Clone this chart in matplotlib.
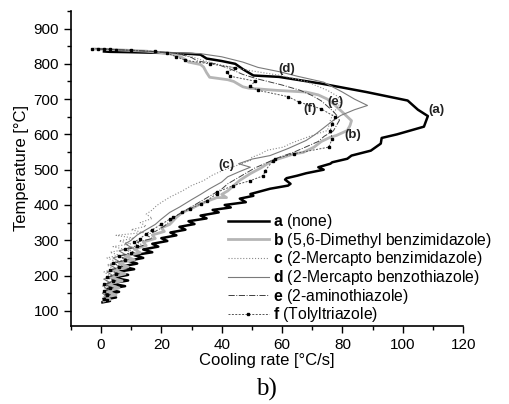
import matplotlib
matplotlib.use('Agg')
import matplotlib.pyplot as plt
from matplotlib.ticker import MultipleLocator

plt.rcParams['font.family'] = ['Liberation Sans', 'DejaVu Sans']
plt.rcParams['mathtext.fontset'] = 'custom'
plt.rcParams['mathtext.rm'] = 'Liberation Sans'
plt.rcParams['mathtext.bf'] = 'Liberation Sans:bold'

# (temperature, cooling rate), in cooling order
a_T = [835, 834, 833, 831, 828, 826, 815, 808, 800, 785, 767, 763, 744, 720, 696, 670, 652,
       622, 600, 590, 574, 554, 540, 531, 521, 517, 507, 500, 490, 483, 476, 472, 460, 455,
       446, 431, 426, 418, 408, 400, 393, 386, 379, 370, 362, 354, 346, 338, 330, 322, 314,
       306, 298, 290, 282, 274, 266, 258, 250, 242, 234, 226, 218, 210, 202, 194, 186, 178,
       170, 162, 154, 146, 138, 132, 128, 124]
a_x = [1, 3, 10, 20, 30, 33, 35, 40, 44.5, 47, 50.5, 59, 73, 88, 101.6, 105, 108.3,
       107, 98, 93, 92.7, 89.4, 83, 81.6, 76.6, 76, 72, 73.8, 68, 65, 61.5, 61, 62.8, 62,
       56, 49.5, 50.5, 46, 48, 41, 43, 37, 39, 33, 35, 29, 31, 26, 28, 23, 25,
       20, 22, 17, 19, 14, 17, 11, 14, 9, 12, 7, 11, 5, 9, 4, 9, 3,
       8, 2, 6, 1.5, 5, 1, 3, 0.5]

b_T = [842, 840, 836, 830, 822, 812, 805, 798, 791, 775, 762, 755, 750, 735, 731, 725, 720,
       712, 700, 687, 663, 639, 625, 611, 597, 592, 580, 564, 549, 545, 535, 526, 516, 505,
       489, 470, 455, 440, 430, 421, 421, 410, 403, 390, 379, 365, 345, 335, 325, 315, 305,
       295, 285, 275, 265, 255, 245, 235, 225, 215, 205, 195, 185, 175, 165, 155, 145, 138,
       132, 128]
b_x = [-2, 5, 15, 22, 26, 28, 29, 33, 34, 35, 36, 42, 44, 47, 49, 58, 68,
       72, 75, 77, 80, 83, 82.5, 81.6, 78, 76, 73, 70.6, 67, 64, 60.4, 57, 55, 53,
       49.5, 46, 44, 42, 40, 41.6, 38.4, 35, 33, 30, 27, 25, 22.8, 20, 21, 17, 18,
       14, 15, 11, 13, 8, 11, 6, 9, 4, 8, 3, 7, 2, 6, 2, 5, 1,
       3, 1]

c_T = [843, 838, 830, 820, 812, 800, 791, 780, 767, 750, 725, 710, 696, 685, 673, 660, 640,
       625, 611, 600, 592, 575, 564, 555, 545, 535, 526, 512, 500, 485, 469, 455, 440, 422,
       410, 398, 386, 374, 362, 350, 340, 330, 322, 314, 306, 298, 290, 282, 274, 266, 258,
       250, 240, 230, 220, 210, 200, 190, 180, 170, 160, 150, 140, 130]
c_x = [-1, 10, 25, 30, 33, 38, 42.8, 50, 59.5, 68, 75, 78, 79.5, 79, 78, 77, 76,
       75.5, 75, 71, 68.3, 63, 60.4, 55, 53, 50, 49.5, 45, 41, 37, 34, 30, 27, 22.8,
       20.5, 18.4, 17, 15, 17, 13, 15, 10, 14, 5, 11, 6, 10, 4, 8, 3, 6,
       2, 5, 2, 4, 1, 3, 1, 3, 0.5, 2, 0.5, 2, 0.5]

d_T = [843, 835, 829, 820, 805, 790, 777, 765, 748, 720, 700, 682, 670, 654, 640, 620, 600,
       583, 560, 540, 530, 517, 507, 495, 480, 465, 446, 430, 415, 394, 379, 360, 345, 330,
       315, 300, 290, 280, 270, 260, 250, 240, 230, 220, 210, 200, 190, 180, 170, 160, 150,
       140, 130]
d_x = [0, 15, 32.8, 40, 47, 52, 59.5, 65, 73.8, 80, 84, 88.3, 84, 79.5, 77, 74, 71,
       68, 62, 56, 50, 45.6, 49.5, 46, 42, 40, 36, 33, 30, 26, 22.8, 20, 18, 15,
       12, 10, 8, 10, 6, 8, 4, 6, 3, 5, 2, 4, 1, 3, 1, 2, 0.5,
       2, 0.5]

e_T = [842, 838, 830, 818, 808, 800, 785, 770, 757, 740, 725, 710, 695, 680, 665, 650, 640,
       625, 610, 595, 580, 565, 550, 535, 520, 505, 490, 475, 460, 445, 430, 415, 400, 385,
       370, 355, 340, 325, 315, 305, 295, 285, 275, 265, 255, 245, 235, 225, 215, 205, 195,
       185, 175, 165, 155, 145, 135, 130]
e_x = [-1, 12, 25, 30, 32, 38, 43, 47, 52, 60, 66, 70, 73, 75, 77, 78.5, 79,
       78, 77, 74, 72, 68, 64, 59, 55, 51, 48, 45, 42, 40, 37, 34, 31, 28,
       25, 23, 21, 18, 15, 17, 12, 14, 9, 11, 6, 9, 4, 7, 3, 6, 2,
       5, 1, 4, 1, 3, 0.5, 2]

f_T = [843, 843, 842, 841, 840, 838, 835, 830, 820, 810, 800, 789, 777, 765, 751, 736, 725,
       707, 692, 673, 649, 630, 611, 588, 564, 545, 531, 526, 497, 483, 469, 455, 436, 432,
       412, 403, 389, 379, 365, 360, 345, 330, 318, 305, 295, 285, 275, 265, 255, 245, 235,
       225, 215, 205, 195, 185, 175, 165, 155, 145, 135, 130]
f_x = [-3, -1, 1, 3, 5, 10, 18, 22, 25, 28, 36, 44.5, 41.7, 42.8, 51, 49.5, 52,
       62, 65.5, 72.8, 77.7, 76.6, 76, 76.6, 75.5, 63.8, 57.8, 57, 54.4, 53.8, 49.5, 43.8, 38.4, 38.4,
       35, 33, 29.5, 27, 24, 22.8, 20, 17, 15, 13, 11, 12, 8, 10, 6, 8, 4,
       6, 3, 5, 2, 4, 1, 3, 1, 2, 1, 2]

labels = [r'$\mathbf{a}$ (none)',
          r'$\mathbf{b}$ (5,6-Dimethyl benzimidazole)',
          r'$\mathbf{c}$ (2-Mercapto benzimidazole)',
          r'$\mathbf{d}$ (2-Mercapto benzothiazole)',
          r'$\mathbf{e}$ (2-aminothiazole)',
          r'$\mathbf{f}$ (Tolyltriazole)']

fig = plt.figure(figsize=(5.09, 4.04), dpi=100)
ax = fig.add_axes([0.139, 0.193, 0.771, 0.780])

ax.plot(a_x, a_T, color='black', lw=1.8, label=labels[0])
ax.plot(b_x, b_T, color='#b5b5b5', lw=2.0, label=labels[1])
ax.plot(c_x, c_T, color='#8a8a8a', lw=0.8, ls=':', label=labels[2])
ax.plot(d_x, d_T, color='#7a7a7a', lw=0.8, label=labels[3])
ax.plot(e_x, e_T, color='#404040', lw=0.7, ls='-.', label=labels[4])
ax.plot(f_x, f_T, color='#555555', lw=0.7, ls=(0, (2, 1.5)), marker='s', markersize=1.6,
        markerfacecolor='black', markeredgecolor='black', label=labels[5])

for txt, x, y in [('(a)', 108.5, 668), ('(b)', 83.3, 597), ('(c)', 41.7, 512),
                  ('(d)', 61.7, 786), ('(e)', 77.7, 691), ('(f)', 69.2, 673)]:
    ax.text(x, y, txt, fontsize=9.5, fontweight='bold', color='#222222',
            ha='left' if txt == '(a)' else 'center', va='center')

ax.set_xlim(-10, 120)
ax.set_ylim(57, 950)
ax.xaxis.set_major_locator(MultipleLocator(20))
ax.xaxis.set_minor_locator(MultipleLocator(10))
ax.yaxis.set_major_locator(MultipleLocator(100))
ax.yaxis.set_minor_locator(MultipleLocator(50))
ax.set_yticks(range(100, 901, 100))
ax.tick_params(which='major', direction='out', length=5, width=1, labelsize=11)
ax.tick_params(which='minor', direction='out', length=3, width=1)
for s in ['top', 'right']:
    ax.spines[s].set_visible(False)
for s in ['left', 'bottom']:
    ax.spines[s].set_linewidth(1.2)

ax.set_xlabel('Cooling rate [°C/s]', fontsize=12, labelpad=1)
ax.set_ylabel('Temperature [°C]', fontsize=12, labelpad=3)

ax.legend(loc='lower left', bbox_to_anchor=(0.38, -0.02), frameon=False, fontsize=11.3,
          handlelength=2.6, handletextpad=0.3, labelspacing=-0.02, borderpad=0, numpoints=1)

fig.text(0.523, 0.037, 'b)', fontsize=18, family='Liberation Serif', ha='center', va='center')

fig.savefig('out.png', dpi=100)
